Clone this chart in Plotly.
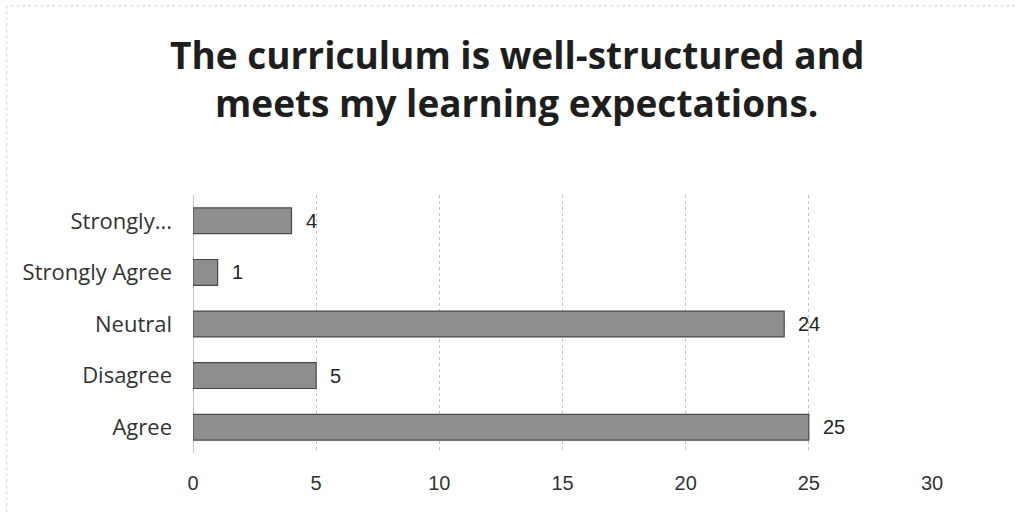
import plotly.graph_objects as go

categories = ["Agree", "Disagree", "Neutral", "Strongly Agree", "Strongly..."]
values = [25, 5, 24, 1, 4]
x_ticks = [0, 5, 10, 15, 20, 25, 30]
title_lines = ["The curriculum is well-structured and", "meets my learning expectations."]

fig = go.Figure()
fig.add_trace(go.Bar(
    y=categories, x=values, orientation="h",
    marker=dict(color="#8e8e8e", line=dict(color="#4a4a4a", width=1.2)),
    width=0.5, showlegend=False,
))

annotations = []
for c, v in zip(categories, values):
    annotations.append(dict(x=v, y=c, xref="x", yref="y", text=str(v), showarrow=False,
                            xanchor="left", xshift=12,
                            font=dict(size=20, color="#262626", family="Liberation Sans, Arial, sans-serif")))
for i, line in enumerate(title_lines):
    annotations.append(dict(x=0.438, y=[1.543, 1.357][i], xref="paper", yref="paper", text="<b>%s</b>" % line,
                            showarrow=False, xanchor="center", yanchor="middle",
                            font=dict(size=37, color="#1e1e1e")))

fig.update_layout(
    width=1016, height=515,
    margin=dict(l=193, r=84, t=195, b=62),
    paper_bgcolor="white", plot_bgcolor="white",
    font=dict(family="Open Sans, Noto Sans, sans-serif", color="#333333"),
    annotations=annotations,
    xaxis=dict(range=[0, 30], tickvals=x_ticks, showgrid=True, gridcolor="#c4c4c4", griddash="dot",
               gridwidth=1, zeroline=True, zerolinecolor="#c4c4c4", zerolinewidth=1,
               tickfont=dict(size=20, color="#333333", family="Liberation Sans, Arial, sans-serif"),
               ticklabelstandoff=16, fixedrange=True),
    yaxis=dict(categoryorder="array", categoryarray=categories, range=[-0.5, 4.5],
               tickfont=dict(size=22, color="#333333"), ticklabelstandoff=20, showgrid=False),
    shapes=[dict(type="rect", xref="paper", yref="paper", x0=-0.252, x1=1.2, y0=-0.3, y1=1.733,
                 line=dict(color="#d4d4d4", width=1, dash="dot"), layer="below")],
)

fig.write_html("out.html", post_script="document.body.style.margin='0';",
               config={"displayModeBar": False})
